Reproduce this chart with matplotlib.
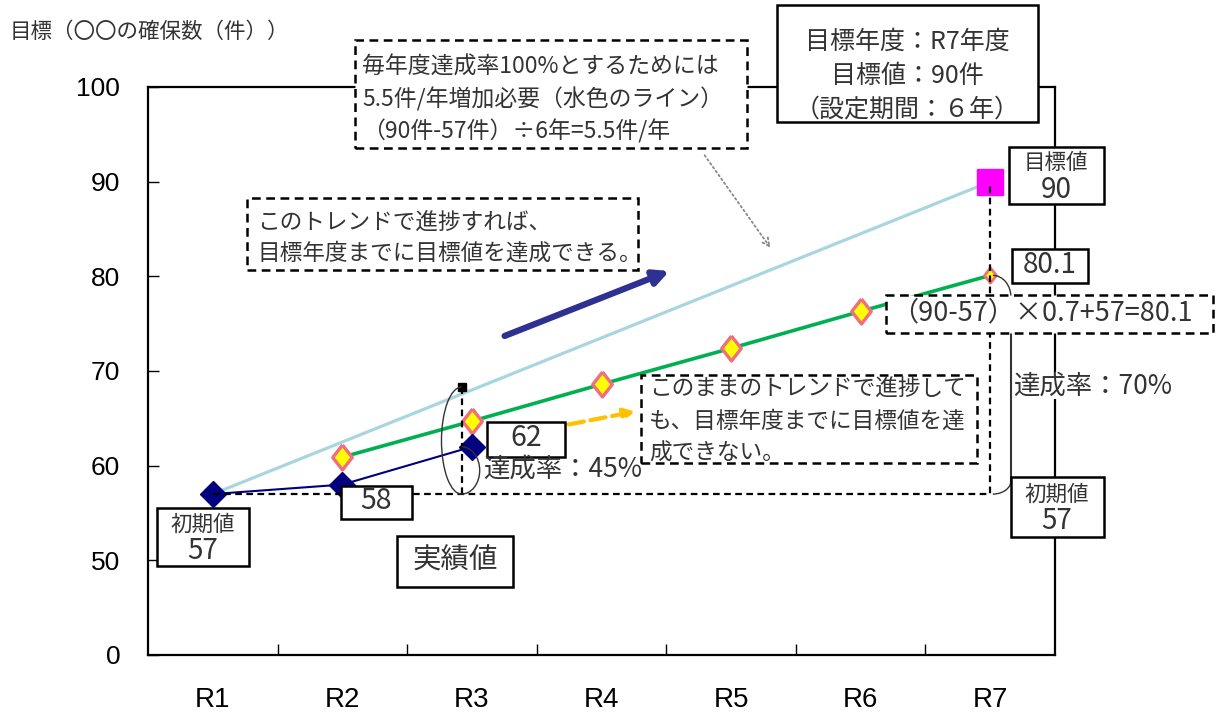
import numpy as np
import matplotlib.pyplot as plt
from matplotlib.patches import Rectangle, Arc, FancyArrowPatch

plt.rcParams['font.family'] = ['Noto Sans CJK JP', 'DejaVu Sans']

years = ['R1', 'R2', 'R3', 'R4', 'R5', 'R6', 'R7']
tick_values = [40, 50, 60, 70, 80, 90, 100]
tick_labels = ['0', '50', '60', '70', '80', '90', '100']   # 0-50 is cut out

actual = [57, 58, 62]                               # 実績値 R1-R3
blue_line = [57, 90]                                # 水色のライン R1 -> R7
green_line = [60.9, 64.7, 68.6, 72.4, 76.3, 80.1]   # 達成率70%のトレンド R2-R7
initial = 57
goal = 90
r3_goal = 68.3

W, H = 1221, 715
JP = '#333333'


def fx(x):
    return x / W


def fy(y):
    return 1 - y / H


fig = plt.figure(figsize=(W / 100, H / 100), dpi=100)
ax = fig.add_axes([fx(148), fy(655), fx(1055) - fx(148), fy(87) - fy(655)])
x = np.arange(len(years))

# series
ax.plot(x[[0, 6]], blue_line, color='#A9D6DE', lw=2.3, zorder=2)
diamond = [(0, 1), (0.78, 0), (0, -1), (-0.78, 0), (0, 1)]
ax.plot(x[1:], green_line, color='#00B050', lw=2.6, marker=diamond, ms=18,
        mfc='#FFFF00', mec='#F06E7E', mew=2.4, markevery=[0, 1, 2, 3, 4],
        zorder=3)
ax.plot(x[6], green_line[-1], marker=diamond, ms=11, mfc='#FFFF00',
        mec='#F06E7E', mew=2, zorder=3)
ax.plot(x[:3], actual, color='#000080', lw=1.5, marker='D', ms=13, zorder=4)
ax.plot(x[6], goal, marker='s', ms=19, color='#FF00FF', zorder=3)

# helper lines
ax.plot([0, 6, 6], [initial, initial, goal], color='k', lw=1.6,
        dashes=(3, 2), zorder=5)
xr3 = 1.92
ax.plot([xr3, xr3], [initial, r3_goal], color='k', lw=1.6, dashes=(3, 2),
        zorder=5)
ax.plot(xr3, r3_goal, 's', ms=6, color='k', zorder=5)
ax.add_patch(Arc((xr3, (initial + r3_goal) / 2), 0.31, r3_goal - initial,
                 theta1=90, theta2=270, lw=1, color=JP, zorder=5))
ax.add_patch(Arc((xr3, (initial + actual[2]) / 2), 0.28, actual[2] - initial,
                 theta1=-90, theta2=90, lw=1, color=JP, zorder=5))
ax.add_patch(Arc((6.02, green_line[-1] - 2.3), 0.28, 4.6,
                 theta1=0, theta2=90, lw=1, color=JP, zorder=5))
ax.plot([6.16, 6.16], [green_line[-1] - 2.3, initial + 1.4], color=JP, lw=1.5,
        zorder=5)
ax.add_patch(Arc((6.02, initial + 1.4), 0.28, 2.8,
                 theta1=270, theta2=360, lw=1, color=JP, zorder=5))

# axes
ax.set_xlim(-0.5, 6.5)
ax.set_ylim(40, 100)
ax.set_yticks(tick_values)
ax.set_yticklabels(tick_labels, fontsize=19, family='Liberation Sans')
ax.set_xticks(x)
ax.set_xticklabels(years, fontsize=20, family='Liberation Sans')
ax.set_xticks(np.arange(0.5, 6, 1), minor=True)
ax.tick_params(axis='x', which='major', length=0, pad=23)
ax.tick_params(axis='x', which='minor', direction='in', length=8, width=1)
ax.tick_params(axis='y', direction='in', length=8, width=1, pad=20)
for s in ax.spines.values():
    s.set_linewidth(1.6)


# annotation boxes (figure pixel layout)
def box(x0, y0, x1, y1, dashed=False):
    ls = (0, (3.5, 2.2)) if dashed else '-'
    fig.add_artist(Rectangle((fx(x0), fy(y1)), fx(x1) - fx(x0),
                             fy(y0) - fy(y1), transform=fig.transFigure,
                             facecolor='white', edgecolor='black', lw=1.8,
                             ls=ls, zorder=5))


def lines(xp, y0, step, rows, ha='left', size=15, color=JP, bg=False):
    for i, row in enumerate(rows):
        t = fig.text(fx(xp), fy(y0 + i * step), row, ha=ha, va='center',
                     fontsize=size, color=color, zorder=6)
        if bg:
            t.set_bbox(dict(facecolor='white', edgecolor='none', pad=0))


fig.text(fx(10), fy(32), '目標（〇〇の確保数（件））', fontsize=15.5, color=JP,
         va='center')

box(355, 40, 747, 148, dashed=True)
lines(362, 67, 32, ['毎年度達成率100%とするためには',
                    '5.5件/年増加必要（水色のライン）',
                    '（90件-57件）÷6年=5.5件/年'], size=16.5)

box(777, 5, 1038, 122)
lines(907, 42, 34, ['目標年度：R7年度', '目標値：90件', '（設定期間：６年）'],
      ha='center', size=18)

box(1009, 147, 1104, 204)
lines(1056, 163, 0, ['目標値'], ha='center', size=15.5)
lines(1056, 190, 0, ['90'], ha='center', size=20)

box(1012, 249, 1088, 283)
lines(1050, 265, 0, ['80.1'], ha='center', size=20)

box(886, 295, 1213, 333, dashed=True)
lines(891, 313, 0, ['（90-57）×0.7+57=80.1'], size=19.5)

lines(1013, 386, 0, ['達成率：70%'], size=19, bg=True)

box(1011, 477, 1104, 537)
lines(1057, 495, 0, ['初期値'], ha='center', size=15.5)
lines(1057, 521, 0, ['57'], ha='center', size=20)

box(157, 508, 249, 566)
lines(203, 525, 0, ['初期値'], ha='center', size=15.5)
lines(203, 551, 0, ['57'], ha='center', size=20)

box(341, 486, 412, 519)
lines(376, 501, 0, ['58'], ha='center', size=20.5)

box(397, 536, 513, 587)
lines(455, 561, 0, ['実績値'], ha='center', size=20.5)

box(487, 422, 565, 457)
lines(526, 438, 0, ['62'], ha='center', size=20.5)
lines(483, 469, 0, ['達成率：45%'], size=19)

box(247, 198, 638, 270, dashed=True)
lines(257, 223, 30, ['このトレンドで進捗すれば、',
                     '目標年度までに目標値を達成できる。'], size=16.3)

box(641, 375, 977, 463, dashed=True)
lines(649, 389, 32, ['このままのトレンドで進捗して',
                     'も、目標年度までに目標値を達',
                     '成できない。'], size=16.3)

# arrows
fig.add_artist(FancyArrowPatch((fx(703), fy(153)), (fx(772), fy(250)),
                               transform=fig.transFigure, arrowstyle='->',
                               mutation_scale=14, lw=1.3, ls=':',
                               color='#888888', zorder=4))
fig.add_artist(FancyArrowPatch((fx(502), fy(337)), (fx(672), fy(270)),
                               transform=fig.transFigure, arrowstyle='-|>',
                               mutation_scale=22, lw=4.5, color='#2E3092',
                               zorder=4))
fig.add_artist(FancyArrowPatch((fx(566), fy(425)), (fx(638), fy(411)),
                               transform=fig.transFigure, arrowstyle='-|>',
                               mutation_scale=16, lw=3, ls='--',
                               color='#FFC000', zorder=4))

fig.savefig('out.png', dpi=100)
